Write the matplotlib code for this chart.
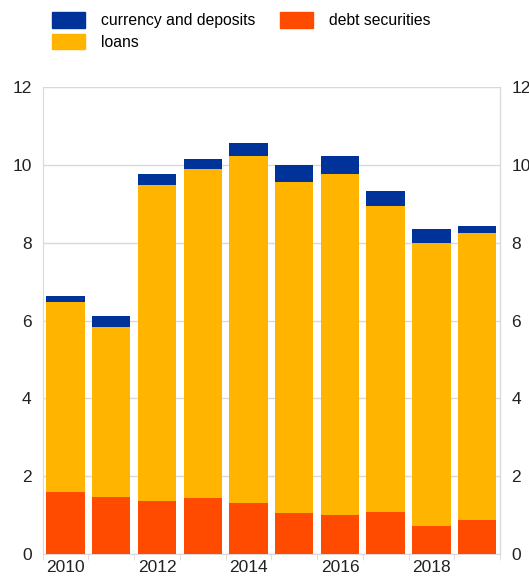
import matplotlib
matplotlib.use("Agg")
import matplotlib.pyplot as plt
import numpy as np
from matplotlib.patches import Patch

plt.rcParams['font.family'] = ['Liberation Sans', 'DejaVu Sans']

years = [2010, 2011, 2012, 2013, 2014, 2015, 2016, 2017, 2018, 2019]
debt_securities = [1.60, 1.47, 1.35, 1.44, 1.32, 1.06, 1.00, 1.08, 0.71, 0.88]
loans = [4.87, 4.36, 8.12, 8.46, 8.91, 8.50, 8.77, 7.86, 7.29, 7.37]
currency_deposits = [0.15, 0.28, 0.30, 0.26, 0.33, 0.44, 0.46, 0.39, 0.34, 0.18]
tick_years = [2010, 2012, 2014, 2016, 2018]

c_blue = '#003399'
c_yellow = '#FFB400'
c_red = '#FF4B00'
grid_c = '#D9D9D9'

fig = plt.figure(figsize=(5.29, 5.78), dpi=100)
ax = fig.add_axes([0.0807, 0.0415, 0.8645, 0.808])

x = np.arange(len(years))
w = 0.84
d = np.array(debt_securities)
l = np.array(loans)
c = np.array(currency_deposits)
ax.bar(x, d, w, color=c_red, zorder=3)
ax.bar(x, l, w, bottom=d, color=c_yellow, zorder=3)
ax.bar(x, c, w, bottom=d + l, color=c_blue, zorder=3)

ax.set_xlim(-0.5, len(years) - 0.5)
ax.set_ylim(0, 12)
ax.set_yticks(range(0, 13, 2))
ax.yaxis.grid(True, color=grid_c, linewidth=1, zorder=0)
ax.tick_params(axis='y', length=0, labelsize=12.5, pad=8, colors='#222222')

ax.set_xticks([years.index(t) for t in tick_years])
ax.set_xticklabels([str(t) for t in tick_years])
ax.set_xticks(np.arange(-0.5, len(years), 1), minor=True)
ax.tick_params(axis='x', which='major', length=0, labelsize=12.5, pad=4, colors='#222222')
ax.tick_params(axis='x', which='minor', length=4, color=grid_c)

ax.spines['top'].set_visible(False)
for s in ['left', 'right', 'bottom']:
    ax.spines[s].set_color(grid_c)

ax2 = ax.twinx()
ax2.set_ylim(0, 12)
ax2.set_yticks(range(0, 13, 2))
ax2.tick_params(axis='y', length=0, labelsize=12.5, pad=8.3, colors='#222222')
for s in ['top', 'left', 'bottom']:
    ax2.spines[s].set_visible(False)
ax2.spines['right'].set_color(grid_c)

handles = [Patch(color=c_blue, label='currency and deposits'),
           Patch(color=c_yellow, label='loans'),
           Patch(color=c_red, label='debt securities')]
fig.legend(handles=handles, ncol=2, loc='upper left', bbox_to_anchor=(0.086, 0.99),
           frameon=False, fontsize=11.3, handlelength=2.1, handleheight=1.15,
           columnspacing=1.55, handletextpad=1.05, labelspacing=0.35,
           borderaxespad=0.0)

fig.savefig('out.png', dpi=100)
